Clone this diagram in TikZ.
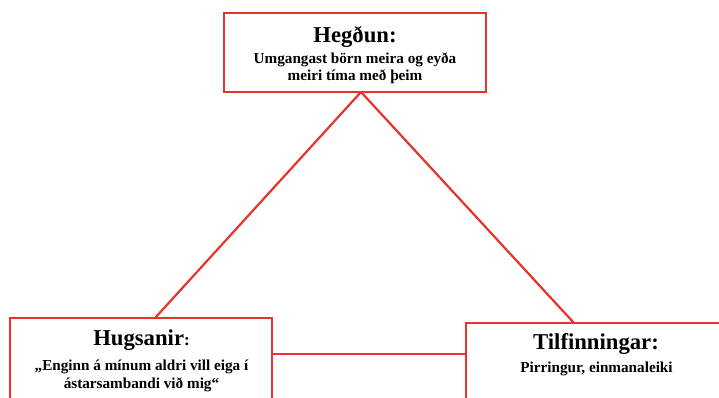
\documentclass[tikz,border=0pt]{standalone}
\usepackage{fontspec}
\setmainfont{Liberation Serif}
\definecolor{boxred}{RGB}{228,52,44}
\begin{document}
\begin{tikzpicture}[x=1pt,y=1pt,
  box/.style={draw=boxred,line width=2.6pt,fill=white,minimum width=#1,inner sep=0pt},
  conn/.style={draw=boxred,line width=2.2pt},
  ttl/.style={font=\bfseries\fontsize{22.7}{26}\selectfont,inner sep=0pt},
  sub/.style={font=\bfseries\fontsize{15.2}{17.5}\selectfont,align=center,inner sep=0pt}]
\useasboundingbox (0,0) rectangle (719,397);
\clip (0,0) rectangle (719,397);
% connectors first
\coordinate (apex) at (361,305);
\coordinate (lend) at (155,79);
\coordinate (rend) at (574,74);
\coordinate (hl) at (272,43);
\coordinate (hr) at (466,43);
\draw[conn] (lend) -- (apex) -- (rend);
\draw[conn] (hl) -- (hr);
% boxes
\node[box=262pt,minimum height=79pt] (top) at (355,344.5) {};
\node[box=262pt,minimum height=104pt] (left) at (141,27) {};
\node[box=266pt,minimum height=110pt] (right) at (599,19) {};
% texts
\node[ttl] (topt) at (355,360) {Hegðun:};
\node[sub] (tops) at (355,329) {Umgangast börn meira og eyða\\meiri tíma með þeim};
\node[ttl] (leftt) at (141.5,57) {Hugsanir\fontsize{17}{18}\selectfont:};
\node[sub] (lefts) at (141.5,21) {„Enginn á mínum aldri vill eiga í\\ástarsambandi við mig“};
\node[ttl] (rightt) at (596,53) {Tilfinningar:};
\node[sub] (rights) at (596.5,28) {Pirringur, einmanaleiki};
\end{tikzpicture}
\end{document}
